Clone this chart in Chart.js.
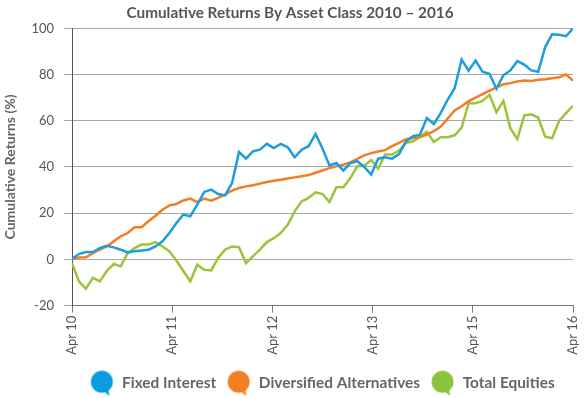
<!DOCTYPE html>
<html>
<head>
<meta charset="utf-8">
<style>
  html, body { margin: 0; padding: 0; background: #fff; }
  #wrap { width: 584px; height: 398px; }
</style>
</head>
<body>
<div id="wrap"><canvas id="returnsChart"></canvas></div>
<script src="https://cdn.jsdelivr.net/npm/chart.js@4/dist/chart.umd.min.js"></script>
<script>
// monthly points Apr 10 .. Apr 16
const tickLabels = ['Apr 10', 'Apr 11', 'Apr 12', 'Apr 13', 'Apr 15', 'Apr 16'];
const seriesNames = ['Fixed Interest', 'Diversified Alternatives', 'Total Equities'];

const fixedInterest = [
  0.3, 2.3, 3.2, 3.2, 4.9, 5.9, 5.2, 4.2, 3.0, 3.5,
  3.8, 4.2, 5.6, 7.8, 11.4, 15.7, 19.4, 18.6, 23.7, 29.2,
  30.2, 28.3, 27.7, 33.0, 46.5, 43.6, 46.8, 47.5, 50.0, 48.2,
  50.0, 48.5, 44.2, 47.5, 49.0, 54.3, 48.0, 40.7, 41.7, 38.4,
  41.7, 42.5, 40.0, 36.7, 43.6, 44.2, 43.6, 45.6, 51.1, 53.3,
  54.0, 61.2, 58.6, 63.4, 69.2, 74.2, 86.5, 81.7, 86.1, 81.2,
  80.3, 73.9, 79.7, 81.8, 85.8, 84.3, 81.8, 81.2, 91.9, 97.4,
  97.2, 96.6, 100.0
];
const diversifiedAlts = [
  0.0, 0.8, 0.9, 2.7, 4.2, 5.6, 7.8, 10.0, 11.4, 13.9,
  13.9, 16.5, 18.9, 21.5, 23.4, 24.0, 25.5, 26.3, 24.8, 26.3,
  25.4, 26.6, 28.0, 29.8, 30.9, 31.6, 32.1, 32.8, 33.5, 34.0,
  34.5, 35.0, 35.5, 36.0, 36.5, 37.5, 38.5, 39.5, 40.3, 41.0,
  42.0, 43.5, 45.0, 46.0, 46.7, 47.3, 49.0, 50.4, 52.0, 52.5,
  53.0, 54.0, 55.5, 57.5, 61.0, 64.5, 66.3, 68.5, 70.0, 71.5,
  73.0, 74.5, 75.8, 76.3, 77.0, 77.4, 77.2, 77.8, 78.0, 78.4,
  78.8, 80.0, 77.4
];
const totalEquities = [
  -1.6, -9.5, -12.7, -8.0, -9.5, -5.0, -2.0, -3.0, 2.7, 4.9,
  6.4, 6.4, 7.5, 5.6, 3.5, -0.5, -5.0, -9.5, -2.3, -4.5,
  -4.8, 0.6, 4.2, 5.6, 5.3, -1.6, 1.3, 4.2, 7.5, 9.2,
  11.4, 15.0, 20.8, 25.1, 26.6, 29.0, 28.3, 24.8, 31.2, 31.2,
  35.2, 40.3, 40.5, 43.0, 39.3, 45.4, 45.4, 47.1, 50.4, 51.1,
  52.9, 55.2, 50.8, 52.9, 52.9, 53.7, 57.0, 67.6, 67.6, 68.6,
  71.2, 63.7, 68.6, 56.8, 52.1, 62.3, 62.8, 61.4, 53.1, 52.4,
  59.9, 63.3, 66.5
];

const colors = ['#1b9ddf', '#f47c22', '#9cc33b'];
const legendColors = ['#0c9ae0', '#f17f24', '#8cc440'];

// speech-bubble legend marker
function bubble(color) {
  const c = document.createElement('canvas');
  c.width = 26; c.height = 26;
  const g = c.getContext('2d');
  g.fillStyle = color;
  g.beginPath();
  g.arc(12.5, 11.5, 11, 0, Math.PI * 2);
  g.fill();
  g.beginPath();
  g.moveTo(13, 20);
  g.lineTo(20, 25.5);
  g.lineTo(19, 18);
  g.closePath();
  g.fill();
  return c;
}

const lastIndex = fixedInterest.length - 1;
const toPoints = arr => arr.map((v, i) => ({ x: i, y: v }));
const tickPositions = tickLabels.map((_, i) => i * lastIndex / (tickLabels.length - 1));

const allSeries = [fixedInterest, diversifiedAlts, totalEquities];
const textFont = 'Lato, "Open Sans", sans-serif';

const ctx = document.getElementById('returnsChart').getContext('2d');
const returnsChart = new Chart(ctx, {
  type: 'line',
  data: {
    datasets: allSeries.map((s, i) => ({
      label: seriesNames[i],
      data: toPoints(s),
      borderColor: colors[i],
      backgroundColor: colors[i],
      borderWidth: 2.5,
      pointRadius: 0,
      pointHoverRadius: 0,
      pointStyle: bubble(legendColors[i]),
      tension: 0,
      fill: false
    }))
  },
  options: {
    responsive: true,
    maintainAspectRatio: false,
    animation: false,
    devicePixelRatio: 1,
    layout: { padding: { left: 0, right: 4, top: 0, bottom: -3 } },
    plugins: {
      title: {
        display: true,
        text: 'Cumulative Returns By Asset Class 2010 \u2013 2016',
        color: '#555',
        font: { family: textFont, size: 15.3, weight: 'bold' },
        padding: { top: 4, bottom: 6 }
      },
      legend: {
        position: 'bottom',
        fullSize: false,
        labels: {
          usePointStyle: true,
          pointStyleWidth: 24,
          padding: 11,
          color: '#666',
          font: { family: textFont, size: 15.4, weight: 'bold' }
        }
      },
      tooltip: { enabled: false }
    },
    scales: {
      x: {
        type: 'linear',
        min: 0,
        max: lastIndex,
        afterBuildTicks: scale => {
          scale.ticks = tickPositions.map(v => ({ value: v }));
        },
        afterFit: scale => {
          scale.height = 59;
          scale.paddingLeft = 0;
          scale.paddingRight = 11;
        },
        grid: { drawOnChartArea: false, tickLength: 7, color: '#777' },
        border: { color: '#777' },
        ticks: {
          autoSkip: false,
          minRotation: 90,
          maxRotation: 90,
          padding: 3,
          color: '#555',
          font: { family: textFont, size: 13 },
          callback: (value, index) => tickLabels[index]
        }
      },
      y: {
        min: -20,
        max: 100,
        afterFit: scale => { scale.width = 72; },
        title: {
          display: true,
          text: 'Cumulative Returns (%)',
          color: '#666',
          font: { family: textFont, size: 14, weight: 'bold' },
          padding: { top: 2, bottom: 0 }
        },
        grid: { color: '#a8a8a8', tickLength: 8 },
        border: { color: '#555' },
        ticks: {
          stepSize: 20,
          padding: 10,
          color: '#555',
          font: { family: textFont, size: 13 }
        }
      }
    }
  }
});
</script>
</body>
</html>
